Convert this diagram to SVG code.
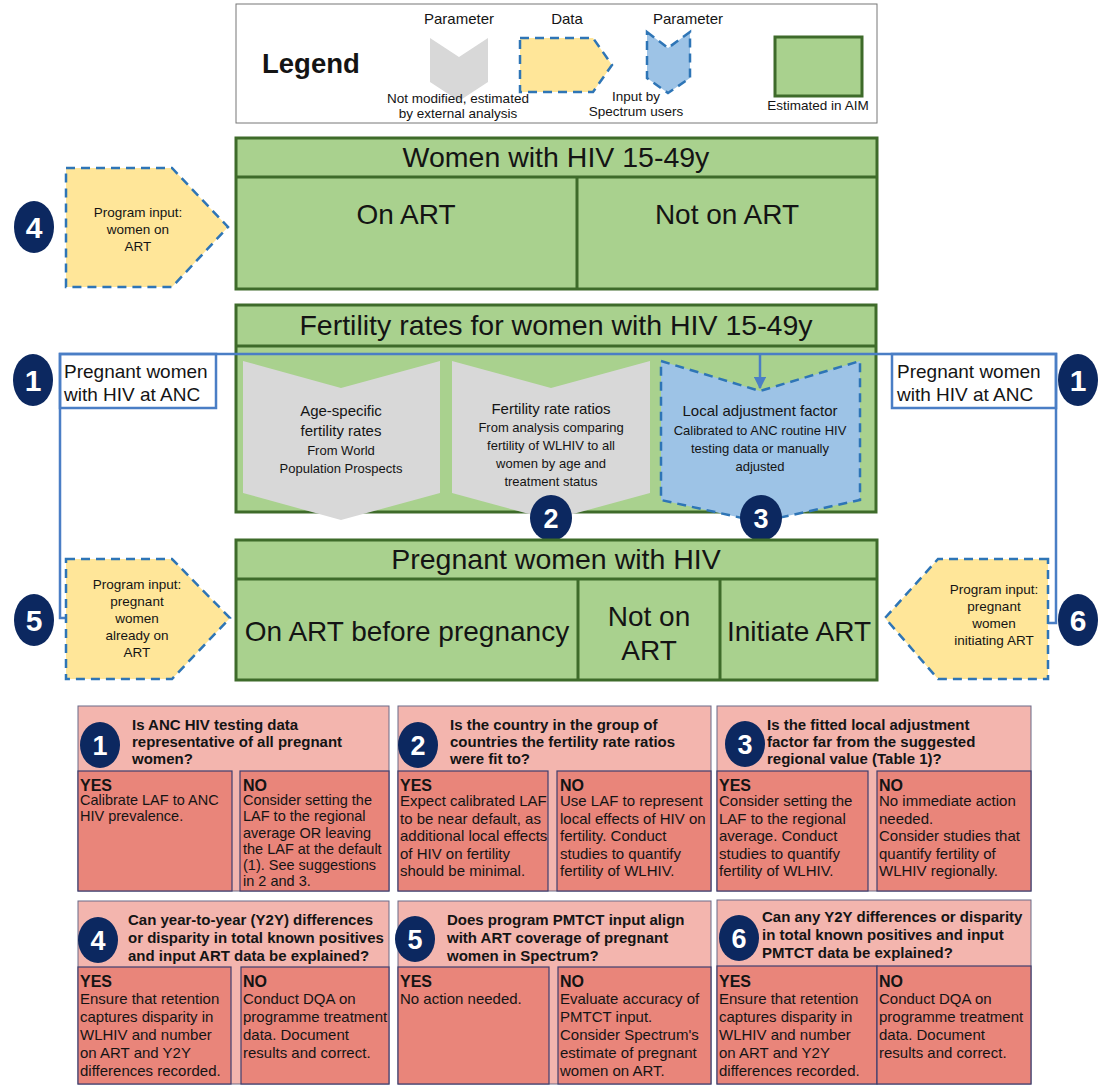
<svg xmlns="http://www.w3.org/2000/svg" width="1101" height="1086" viewBox="0 0 1101 1086">
<style>
text{font-family:'Liberation Sans',Arial,sans-serif;fill:#141414}
.c{text-anchor:middle}
.big{font-size:28px}
.title{font-size:28.5px}
.green{fill:#A9D18E;stroke:#3E6B2A;stroke-width:3}
.gline{stroke:#3E6B2A;stroke-width:3;fill:none}
.gray{fill:#D8D8D8}
.dash{stroke:#2E75B6;stroke-width:2.5;stroke-dasharray:9 6}
.yel{fill:#FFE699}
.blu{fill:#9DC3E6}
.circ{fill:#0C2860}
text.num{fill:#fff;font-weight:bold;font-size:30px;text-anchor:middle}
text.num2{fill:#fff;font-weight:bold;font-size:27px;text-anchor:middle}
.sm{font-size:13.5px}
.chev1{font-size:15px}
.chev2{font-size:13px}
.lab{font-size:19px}
.hd{font-weight:bold;font-size:15px}
.b{font-size:15px}
.b1{font-size:14.5px}
.yn{font-weight:bold;font-size:16px}
.pink{fill:#F3B5AE;stroke:#6A6A88;stroke-width:1}
.sal{fill:#E9857A;stroke:#3F3F6E;stroke-width:1.2}
.conn{stroke:#4A7EC5;stroke-width:2.5;fill:none}
</style>
<defs>
<marker id="ah" viewBox="0 0 10 10" refX="9" refY="5" markerWidth="5" markerHeight="5" orient="auto">
<path d="M0,0 L10,5 L0,10 z" fill="#4A7EC5"/>
</marker>
</defs>

<g id="legend">
<rect x="236" y="4" width="641" height="119" fill="#fff" stroke="#777" stroke-width="1"/>
<text x="262" y="73" style="font-weight:bold;font-size:27.5px">Legend</text>
<text x="459" y="24" class="c" style="font-size:15px">Parameter</text>
<polygon class="gray" points="430,38 459,57 488,38 488,82 459,101 430,82"/>
<text x="458" y="103" class="c sm">Not modified, estimated</text>
<text x="458" y="118" class="c sm">by external analysis</text>
<text x="567" y="24" class="c" style="font-size:15px">Data</text>
<polygon class="yel dash" points="520,38 593,38 612,65 593,92 520,92"/>
<text x="688" y="24" class="c" style="font-size:15px">Parameter</text>
<polygon class="blu dash" points="647,32 668,48 690,32 690,78 668,93 647,78"/>
<text x="636" y="101" class="c sm">Input by</text>
<text x="636" y="116" class="c sm">Spectrum users</text>
<rect x="775" y="37" width="87" height="59" class="green"/>
<text x="818" y="110" class="c sm">Estimated in AIM</text>
</g>

<g id="women">
<rect x="236" y="138" width="641" height="151" class="green"/>
<line x1="236" y1="177" x2="877" y2="177" class="gline"/>
<line x1="577" y1="177" x2="577" y2="289" class="gline"/>
<text x="556" y="167" class="c title">Women with HIV 15-49y</text>
<text x="406" y="224" class="c big">On ART</text>
<text x="727" y="224" class="c big">Not on ART</text>
</g>

<g id="input4">
<polygon class="yel dash" points="66,168 172,168 228,227 172,287 66,287"/>
<text x="138" y="217" class="c sm">Program input:</text>
<text x="138" y="234" class="c sm">women on</text>
<text x="138" y="251" class="c sm">ART</text>
<ellipse cx="34" cy="227" rx="20" ry="26" class="circ"/>
<text x="34" y="238" class="num">4</text>
</g>

<g id="fertility">
<rect x="236" y="305" width="640" height="207" class="green"/>
<line x1="236" y1="346" x2="876" y2="346" class="gline"/>
<text x="556" y="335" class="c title">Fertility rates for women with HIV 15-49y</text>
</g>

<g id="connectors">
<polyline class="conn" points="66,618 60,618 60,354 1056,354 1056,623 1048,623"/>
<rect x="60" y="354" width="156" height="54" class="conn"/>
<rect x="892" y="354" width="164" height="54" class="conn"/>
<line x1="760" y1="354" x2="760" y2="388" class="conn" marker-end="url(#ah)"/>
</g>

<g id="label1-left">
<text x="64" y="378" class="lab">Pregnant women</text>
<text x="64" y="401" class="lab">with HIV at ANC</text>
<ellipse cx="33" cy="380" rx="20" ry="26" class="circ"/>
<text x="33" y="391" class="num">1</text>
</g>
<g id="label1-right">
<text x="897" y="378" class="lab">Pregnant women</text>
<text x="897" y="401" class="lab">with HIV at ANC</text>
<ellipse cx="1078" cy="380" rx="20" ry="26" class="circ"/>
<text x="1078" y="391" class="num">1</text>
</g>

<g id="asfr">
<polygon class="gray" points="243,361 341,388 440,361 440,493 341,520 243,493"/>
<text x="341" y="416" class="c chev1">Age-specific</text>
<text x="341" y="436" class="c chev1">fertility rates</text>
<text x="341" y="455" class="c chev2">From World</text>
<text x="341" y="473" class="c chev2">Population Prospects</text>
</g>
<g id="frr">
<polygon class="gray" points="452,361 551,388 650,361 650,493 551,520 452,493"/>
<text x="551" y="414" class="c chev1">Fertility rate ratios</text>
<text x="551" y="432" class="c chev2">From analysis comparing</text>
<text x="551" y="450" class="c chev2">fertility of WLHIV to all</text>
<text x="551" y="468" class="c chev2">women by age and</text>
<text x="551" y="486" class="c chev2">treatment status</text>
<ellipse cx="551" cy="518" rx="21" ry="23" class="circ"/>
<text x="551" y="528" class="num2">2</text>
</g>
<g id="laf">
<polygon class="blu dash" points="661,361 760,391 860,361 860,500 760,522 661,500"/>
<text x="760" y="416" class="c chev1">Local adjustment factor</text>
<text x="760" y="435" class="c chev2">Calibrated to ANC routine HIV</text>
<text x="760" y="453" class="c chev2">testing data or manually</text>
<text x="760" y="471" class="c chev2">adjusted</text>
<ellipse cx="761" cy="518" rx="21" ry="23" class="circ"/>
<text x="761" y="528" class="num2">3</text>
</g>

<g id="pregnant">
<rect x="236" y="540" width="641" height="140" class="green"/>
<line x1="236" y1="579" x2="877" y2="579" class="gline"/>
<line x1="578" y1="579" x2="578" y2="680" class="gline"/>
<line x1="720" y1="579" x2="720" y2="680" class="gline"/>
<text x="556" y="569" class="c title">Pregnant women with HIV</text>
<text x="407" y="641" class="c big">On ART before pregnancy</text>
<text x="649" y="626" class="c big">Not on</text>
<text x="649" y="660" class="c big">ART</text>
<text x="799" y="641" class="c big">Initiate ART</text>
</g>

<g id="input5">
<polygon class="yel dash" points="66,559 172,559 230,618 172,679 66,679"/>
<text x="137" y="589" class="c sm">Program input:</text>
<text x="137" y="606" class="c sm">pregnant</text>
<text x="137" y="623" class="c sm">women</text>
<text x="137" y="640" class="c sm">already on</text>
<text x="137" y="657" class="c sm">ART</text>
<ellipse cx="34" cy="620" rx="20" ry="26" class="circ"/>
<text x="34" y="631" class="num">5</text>
</g>

<g id="input6">
<polygon class="yel dash" points="1048,559 938,559 885,618 938,679 1048,679"/>
<text x="994" y="594" class="c sm">Program input:</text>
<text x="994" y="611" class="c sm">pregnant</text>
<text x="994" y="628" class="c sm">women</text>
<text x="994" y="645" class="c sm">initiating ART</text>
<ellipse cx="1078" cy="620" rx="20" ry="26" class="circ"/>
<text x="1078" y="631" class="num">6</text>
</g>

<g id="q1">
<rect x="78" y="706" width="311" height="185" class="pink"/>
<rect x="78" y="771" width="154" height="120" class="sal"/>
<rect x="240" y="771" width="149" height="120" class="sal"/>
<ellipse cx="100" cy="745" rx="20" ry="23" class="circ"/>
<text x="100" y="755" class="num2">1</text>
<text x="132" y="730" class="hd">Is ANC HIV testing data</text>
<text x="132" y="747" class="hd">representative of all pregnant</text>
<text x="132" y="764" class="hd">women?</text>
<text x="80" y="791" class="yn">YES</text>
<text x="80" y="805" class="b1">Calibrate LAF to ANC</text>
<text x="80" y="821" class="b1">HIV prevalence.</text>
<text x="243" y="791" class="yn">NO</text>
<text x="243" y="805" class="b1">Consider setting the</text>
<text x="243" y="821" class="b1">LAF to the regional</text>
<text x="243" y="837.5" class="b1">average OR leaving</text>
<text x="243" y="853.5" class="b1">the LAF at the default</text>
<text x="243" y="870" class="b1">(1). See suggestions</text>
<text x="243" y="886" class="b1">in 2 and 3.</text>
</g>

<g id="q2">
<rect x="398" y="706" width="313" height="185" class="pink"/>
<rect x="398" y="771" width="150" height="120" class="sal"/>
<rect x="557" y="771" width="154" height="120" class="sal"/>
<ellipse cx="418" cy="745" rx="20" ry="23" class="circ"/>
<text x="418" y="755" class="num2">2</text>
<text x="450" y="730" class="hd">Is the country in the group of</text>
<text x="450" y="747" class="hd">countries the fertility rate ratios</text>
<text x="450" y="764" class="hd">were fit to?</text>
<text x="400" y="791" class="yn">YES</text>
<text x="400" y="806" class="b">Expect calibrated LAF</text>
<text x="400" y="823.5" class="b">to be near default, as</text>
<text x="400" y="841" class="b">additional local effects</text>
<text x="400" y="858.5" class="b">of HIV on fertility</text>
<text x="400" y="876" class="b">should be minimal.</text>
<text x="560" y="791" class="yn">NO</text>
<text x="560" y="806" class="b">Use LAF to represent</text>
<text x="560" y="823.5" class="b">local effects of HIV on</text>
<text x="560" y="841" class="b">fertility. Conduct</text>
<text x="560" y="858.5" class="b">studies to quantify</text>
<text x="560" y="876" class="b">fertility of WLHIV.</text>
</g>

<g id="q3">
<rect x="717" y="706" width="314" height="185" class="pink"/>
<rect x="717" y="771" width="151" height="120" class="sal"/>
<rect x="877" y="771" width="154" height="120" class="sal"/>
<ellipse cx="745" cy="744" rx="20" ry="23" class="circ"/>
<text x="745" y="754" class="num2">3</text>
<text x="767" y="730" class="hd">Is the fitted local adjustment</text>
<text x="767" y="747" class="hd">factor far from the suggested</text>
<text x="767" y="764" class="hd">regional value (Table 1)?</text>
<text x="719" y="791" class="yn">YES</text>
<text x="719" y="806" class="b">Consider setting the</text>
<text x="719" y="823.5" class="b">LAF to the regional</text>
<text x="719" y="841" class="b">average. Conduct</text>
<text x="719" y="858.5" class="b">studies to quantify</text>
<text x="719" y="876" class="b">fertility of WLHIV.</text>
<text x="879" y="791" class="yn">NO</text>
<text x="879" y="806" class="b">No immediate action</text>
<text x="879" y="823.5" class="b">needed.</text>
<text x="879" y="841" class="b">Consider studies that</text>
<text x="879" y="858.5" class="b">quantify fertility of</text>
<text x="879" y="876" class="b">WLHIV regionally.</text>
</g>

<g id="q4">
<rect x="78" y="901" width="311" height="183" class="pink"/>
<rect x="78" y="967" width="153" height="117" class="sal"/>
<rect x="241" y="967" width="148" height="117" class="sal"/>
<ellipse cx="98" cy="940" rx="20" ry="23" class="circ"/>
<text x="98" y="950" class="num2">4</text>
<text x="128" y="925" class="hd">Can year-to-year (Y2Y) differences</text>
<text x="128" y="943" class="hd">or disparity in total known positives</text>
<text x="128" y="961" class="hd">and input ART data be explained?</text>
<text x="80" y="987" class="yn">YES</text>
<text x="80" y="1004" class="b">Ensure that retention</text>
<text x="80" y="1022" class="b">captures disparity in</text>
<text x="80" y="1040" class="b">WLHIV and number</text>
<text x="80" y="1058" class="b">on ART and Y2Y</text>
<text x="80" y="1076" class="b">differences recorded.</text>
<text x="243" y="987" class="yn">NO</text>
<text x="243" y="1004" class="b">Conduct DQA on</text>
<text x="243" y="1022" class="b">programme treatment</text>
<text x="243" y="1040" class="b">data. Document</text>
<text x="243" y="1058" class="b">results and correct.</text>
</g>

<g id="q5">
<rect x="398" y="901" width="313" height="183" class="pink"/>
<rect x="398" y="967" width="151" height="117" class="sal"/>
<rect x="558" y="967" width="153" height="117" class="sal"/>
<ellipse cx="415" cy="939" rx="20" ry="23" class="circ"/>
<text x="415" y="949" class="num2">5</text>
<text x="447" y="925" class="hd">Does program PMTCT input align</text>
<text x="447" y="943" class="hd">with ART coverage of pregnant</text>
<text x="447" y="961" class="hd">women in Spectrum?</text>
<text x="400" y="987" class="yn">YES</text>
<text x="400" y="1004" class="b">No action needed.</text>
<text x="560" y="987" class="yn">NO</text>
<text x="560" y="1004" class="b">Evaluate accuracy of</text>
<text x="560" y="1022" class="b">PMTCT input.</text>
<text x="560" y="1040" class="b">Consider Spectrum's</text>
<text x="560" y="1058" class="b">estimate of pregnant</text>
<text x="560" y="1076" class="b">women on ART.</text>
</g>

<g id="q6">
<rect x="717" y="900" width="314" height="184" class="pink"/>
<rect x="717" y="966" width="160" height="118" class="sal"/>
<rect x="877" y="966" width="154" height="118" class="sal"/>
<ellipse cx="739" cy="938" rx="20" ry="23" class="circ"/>
<text x="739" y="948" class="num2">6</text>
<text x="762" y="922" class="hd">Can any Y2Y differences or disparity</text>
<text x="762" y="940" class="hd">in total known positives and input</text>
<text x="762" y="958" class="hd">PMTCT data be explained?</text>
<text x="719" y="987" class="yn">YES</text>
<text x="719" y="1004" class="b">Ensure that retention</text>
<text x="719" y="1022" class="b">captures disparity in</text>
<text x="719" y="1040" class="b">WLHIV and number</text>
<text x="719" y="1058" class="b">on ART and Y2Y</text>
<text x="719" y="1076" class="b">differences recorded.</text>
<text x="879" y="987" class="yn">NO</text>
<text x="879" y="1004" class="b">Conduct DQA on</text>
<text x="879" y="1022" class="b">programme treatment</text>
<text x="879" y="1040" class="b">data. Document</text>
<text x="879" y="1058" class="b">results and correct.</text>
</g>
</svg>
